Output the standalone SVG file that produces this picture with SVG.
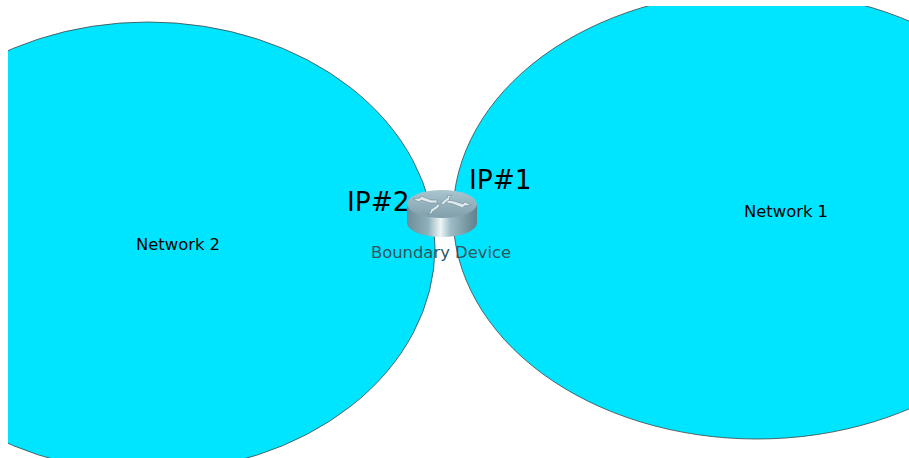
<svg xmlns="http://www.w3.org/2000/svg" width="909" height="458" viewBox="0 0 909 458">
<style>
.net{fill:#00e5ff;stroke:#444;stroke-width:.8}
.lbl{font-family:"DejaVu Sans",sans-serif;font-size:16.400px;fill:#000}
.ip{font-family:"DejaVu Sans",sans-serif;font-size:26.400px;fill:#000}
.dev{font-family:"DejaVu Sans",sans-serif;font-size:16.400px;fill:#2f5560}
.arr{fill:#dfeaee;stroke:#6f8c97;stroke-width:.6}
</style>
<defs>
<clipPath id="c"><rect x="8" y="6" width="901" height="452"/></clipPath>
<linearGradient id="body" x1="0" x2="1" y1="0" y2="0">
<stop offset="0" stop-color="#6d8e99"/><stop offset=".3" stop-color="#8fb0ba"/><stop offset=".48" stop-color="#eef6f7"/><stop offset=".62" stop-color="#9dbcc6"/><stop offset="1" stop-color="#5f808c"/>
</linearGradient>
<linearGradient id="top" x1="0" x2="0" y1="0" y2="1">
<stop offset="0" stop-color="#a9c6cf"/><stop offset="1" stop-color="#7f9fab"/>
</linearGradient>
</defs>
<g id="connectors"/>
<g clip-path="url(#c)">
<g id="network2"><ellipse class="net" cx="148" cy="247" rx="287" ry="225"/><text class="lbl" x="178" y="250" text-anchor="middle">Network 2</text></g>
<g id="network1"><ellipse class="net" cx="757" cy="215" rx="304" ry="224"/><text class="lbl" x="786" y="217" text-anchor="middle">Network 1</text></g>
</g>
<g id="boundary-device">
<path d="M407 204V223A35 14 0 0 0 477 223V204Z" fill="url(#body)"/>
<ellipse cx="442" cy="204" rx="35" ry="14" fill="url(#top)"/>
<path class="arr" d="M413 199l7-1 1-2 10 4 6 0 0 3-7 0-9-3-2 2z"/>
<path class="arr" d="M471 205l-7 1-1 2-10-4-6-1 0-3 7 1 9 3 2-2z"/>
<path class="arr" d="M452 195l-3 3 1 1-5 4-2 2-2-1 2-3 5-4-1-1z"/>
<path class="arr" d="M428 214l3-3-1-1 6-4 2-2 2 1-2 3-6 4 1 1z"/>
<text class="dev" x="441" y="257.500" text-anchor="middle">Boundary Device</text>
</g>
<text class="ip" x="469" y="188.500">IP#1</text>
<text class="ip" x="347" y="211">IP#2</text>
</svg>
